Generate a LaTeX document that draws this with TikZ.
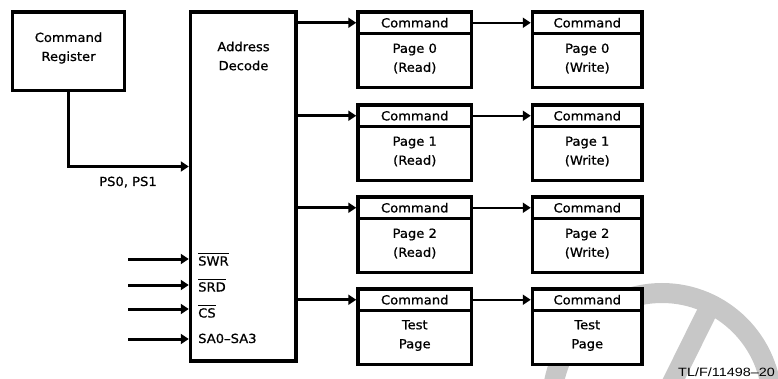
\documentclass[tikz,border=0pt]{standalone}
\usepackage{fontspec}
\setmainfont{DejaVu Sans}[FakeStretch=1.05,FakeBold=0.8]
\newfontfamily\tlfont{Liberation Sans}[FakeStretch=1.2]
\usetikzlibrary{arrows.meta}
\definecolor{wmgray}{gray}{0.78}
\newcommand\ovbar[1]{\vbox{\hrule height 1.3pt\kern 1.8pt\hbox{#1}}}
\begin{document}
\begin{tikzpicture}[x=1pt,y=-1pt,
  font=\fontsize{12.5}{19}\selectfont,
  blk/.style={draw, line width=3.5pt, fill=white, inner sep=0pt},
  txt/.style={align=center, inner sep=0pt},
  wm/.style={draw=wmgray, line width=20pt},
  arrA/.style={line width=3pt, -{Triangle[length=8pt,width=10pt]}},
  arrB/.style={line width=2.3pt, -{Triangle[length=8pt,width=10pt]}}]
\useasboundingbox (0,0) rectangle (778,379);
% watermark
\begin{scope}
  \clip (0,0) rectangle (778,379);
  \draw[wm] (662,403) circle[radius=110];
  \draw[wm] (613,502) -- (711,304);
\end{scope}
% command register and address decode
\node[blk, minimum width=112pt, minimum height=78.5pt] (creg) at (68.5,51.25) {};
\node[txt] (cregt) at (68.5,48) {Command\\Register};
\node[blk, minimum width=105.5pt, minimum height=349pt] (addr) at (243.25,186.5) {};
\node[txt] (addrt) at (243.5,56) {Address\\Decode};
\coordinate (psy) at (0,166.5);
\draw[arrA] (creg.south) |- (addr.west |- psy);
\node[anchor=base, inner sep=0pt] (pst) at (128,186) {PS0, PS1};
% control inputs
\foreach \n/\y/\b/\lab in {swr/259/265.5/{\ovbar{SWR}}, srd/285/291.5/{\ovbar{SRD}}, cs/309/317.5/{\ovbar{CS}}, sa/339/343/{SA0–SA3}}{
  \coordinate (s\n) at (128,\y);
  \draw[arrA] (s\n) -- (addr.west |- s\n);
  \node[anchor=base west, inner sep=0pt] (t\n) at (198,\b) {\lab};
}
% pages
\foreach \i/\t/\la/\lb/\lc in {0/12/Page 0/(Read)/(Write), 1/105/Page 1/(Read)/(Write), 2/197/Page 2/(Read)/(Write), 3/289/Test/Page/Page}{
  \node[blk, minimum width=113.5pt, minimum height=21.5pt] (ca\i) at (414.75,\t+10.75) {Command};
  \node[blk, minimum width=113.5pt, minimum height=54pt] (ba\i) at (414.75,\t+48.5) {};
  \node[txt] (ta\i) at (414.75,\t+46.5) {\la\\\lb};
  \node[blk, minimum width=109.5pt, minimum height=21.5pt] (cb\i) at (587.25,\t+10.75) {Command};
  \node[blk, minimum width=109.5pt, minimum height=54pt] (bb\i) at (587.25,\t+48.5) {};
  \node[txt] (tb\i) at (587.25,\t+46.5) {\la\\\lc};
  \draw[arrA] (addr.east |- ca\i.west) -- (ca\i.west);
  \draw[arrB] (ca\i.east) -- (cb\i.west);
}
\node[anchor=base east, inner sep=0pt, font=\tlfont\fontsize{12}{14}\selectfont] (tl) at (775,376) {TL/F/11498–20};
\end{tikzpicture}
\end{document}
